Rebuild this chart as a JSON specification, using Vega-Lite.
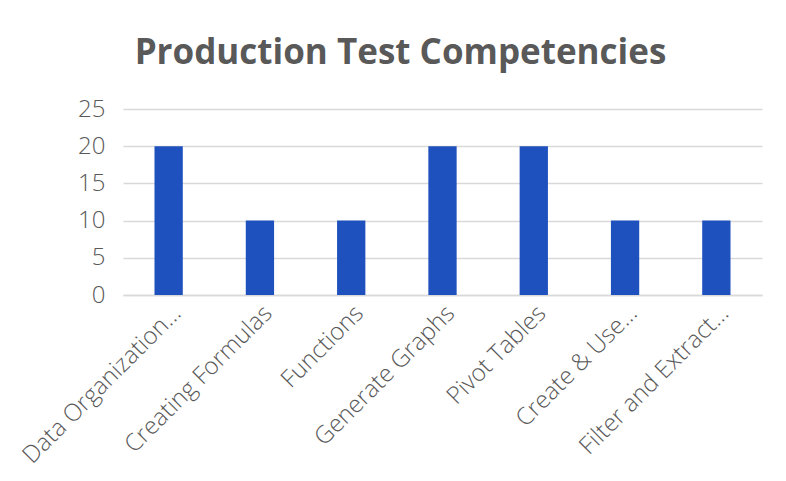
{
  "$schema": "https://vega.github.io/schema/vega-lite/v6.json",
  "width": 639,
  "height": 186,
  "autosize": {"type": "none"},
  "padding": {"left": 123, "top": 109, "right": 24, "bottom": 186},
  "background": "white",
  "title": {
    "text": "Production Test Competencies",
    "font": "Open Sans",
    "fontWeight": "bold",
    "fontSize": 35,
    "color": "#595959",
    "anchor": "middle",
    "dx": -42,
    "offset": 26
  },
  "data": {
    "values": [
      {"skill": "Data Organization…", "value": 20},
      {"skill": "Creating Formulas", "value": 10},
      {"skill": "Functions", "value": 10},
      {"skill": "Generate Graphs", "value": 20},
      {"skill": "Pivot Tables", "value": 20},
      {"skill": "Create & Use…", "value": 10},
      {"skill": "Filter and Extract…", "value": 10}
    ]
  },
  "mark": {"type": "bar", "color": "#1E50BE"},
  "encoding": {
    "x": {
      "field": "skill",
      "type": "nominal",
      "sort": null,
      "title": null,
      "scale": {"paddingInner": 0.69, "paddingOuter": 0.345},
      "axis": {
        "labelAngle": -45,
        "labelFont": "Open Sans",
        "labelFontWeight": 300,
        "labelFontSize": 24,
        "labelColor": "#595959",
        "labelPadding": 6,
        "ticks": false,
        "domainColor": "#D9D9D9",
        "domainWidth": 1.5,
        "labelLimit": 400
      }
    },
    "y": {
      "field": "value",
      "type": "quantitative",
      "title": null,
      "scale": {"domain": [0, 25]},
      "axis": {
        "values": [0, 5, 10, 15, 20, 25],
        "labelFont": "Open Sans",
        "labelFontWeight": 300,
        "labelFontSize": 24,
        "labelColor": "#595959",
        "labelPadding": 18,
        "ticks": false,
        "domain": false,
        "gridColor": "#D9D9D9",
        "gridWidth": 1.5
      }
    }
  },
  "config": {"view": {"stroke": null}}
}
